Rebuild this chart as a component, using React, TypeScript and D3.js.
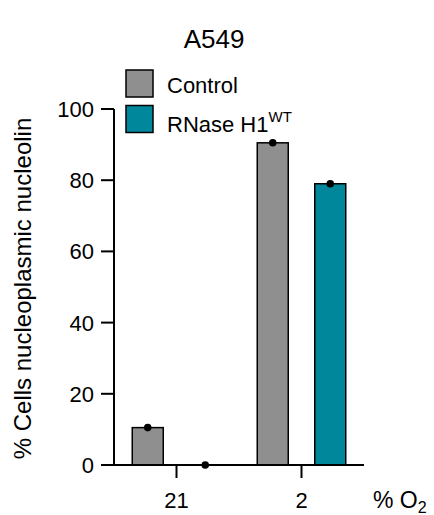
import React from "react";
import * as d3 from "d3";

const groups = ["21", "2"];
const seriesNames = ["Control", "RNase H1"];
const controlValues = [10.5, 90.5];
const rnaseValues = [0, 79];
const yTicks = [0, 20, 40, 60, 80, 100];
const colors = ["#8f8f8f", "#00879c"];

const FONT = "Liberation Sans, Arial, Helvetica, sans-serif";

export default function App() {
  const W = 434, H = 515;
  const left = 114, right = 364, top = 109, bottom = 465;
  const y = d3.scaleLinear().domain([0, 100]).range([bottom, top]);
  const x = d3.scaleBand().domain(groups).range([left, right]).padding(0);
  const xSub = d3.scalePoint().domain(seriesNames).range([-28.75, 28.75]);
  const barW = 31;
  const series = [controlValues, rnaseValues];
  const tick = 13;

  return (
    <svg width={W} height={H} style={{ position: "absolute", left: 0, top: 0 }} fontFamily={FONT}>
      <rect width={W} height={H} fill="#fff" />
      <text x={214} y={48} textAnchor="middle" fontSize={26}>A549</text>

      {/* legend */}
      {seriesNames.map((s, i) => (
        <g key={s} transform={`translate(126, ${70 + i * 35.5})`}>
          <rect x={0} y={0} width={27} height={27} fill={colors[i]} stroke="#000" strokeWidth={1.5} />
          <text x={41} y={i === 0 ? 23 : 26} fontSize={22}>
            {s}
            {i === 1 ? <tspan fontSize={15} dy={-10}>WT</tspan> : null}
          </text>
        </g>
      ))}

      {/* bars */}
      {groups.map((g, gi) => {
        const cx = (x(g) as number) + x.bandwidth() / 2;
        return seriesNames.map((s, si) => {
          const v = series[si][gi];
          const bx = cx + (xSub(s) as number);
          return (
            <g key={g + s}>
              {v > 0 && (
                <rect x={bx - barW / 2} y={y(v)} width={barW} height={y(0) - y(v)}
                  fill={colors[si]} stroke="#000" strokeWidth={1.5} />
              )}
              <circle cx={bx} cy={y(v)} r={3.8} fill="#000" />
            </g>
          );
        });
      })}

      {/* y axis */}
      <line x1={left} x2={left} y1={top} y2={bottom} stroke="#000" strokeWidth={2} />
      {yTicks.map((t) => (
        <g key={t}>
          <line x1={left - tick} x2={left} y1={y(t)} y2={y(t)} stroke="#000" strokeWidth={2} />
          <text x={left - tick - 7} y={y(t) + 8} textAnchor="end" fontSize={22}>{t}</text>
        </g>
      ))}
      <text transform={`translate(31, ${(112 + 465) / 2}) rotate(-90)`} textAnchor="middle" fontSize={24}>
        % Cells nucleoplasmic nucleolin
      </text>

      {/* x axis */}
      <line x1={left - 1} x2={right} y1={bottom} y2={bottom} stroke="#000" strokeWidth={2} />
      {groups.map((g) => {
        const cx = (x(g) as number) + x.bandwidth() / 2;
        return (
          <g key={g}>
            <line x1={cx} x2={cx} y1={bottom} y2={bottom + tick} stroke="#000" strokeWidth={2} />
            <text x={cx} y={508} textAnchor="middle" fontSize={22}>{g}</text>
          </g>
        );
      })}
      <text x={373} y={508} fontSize={23}>
        % O<tspan fontSize={16} dy={5}>2</tspan>
      </text>
    </svg>
  );
}
